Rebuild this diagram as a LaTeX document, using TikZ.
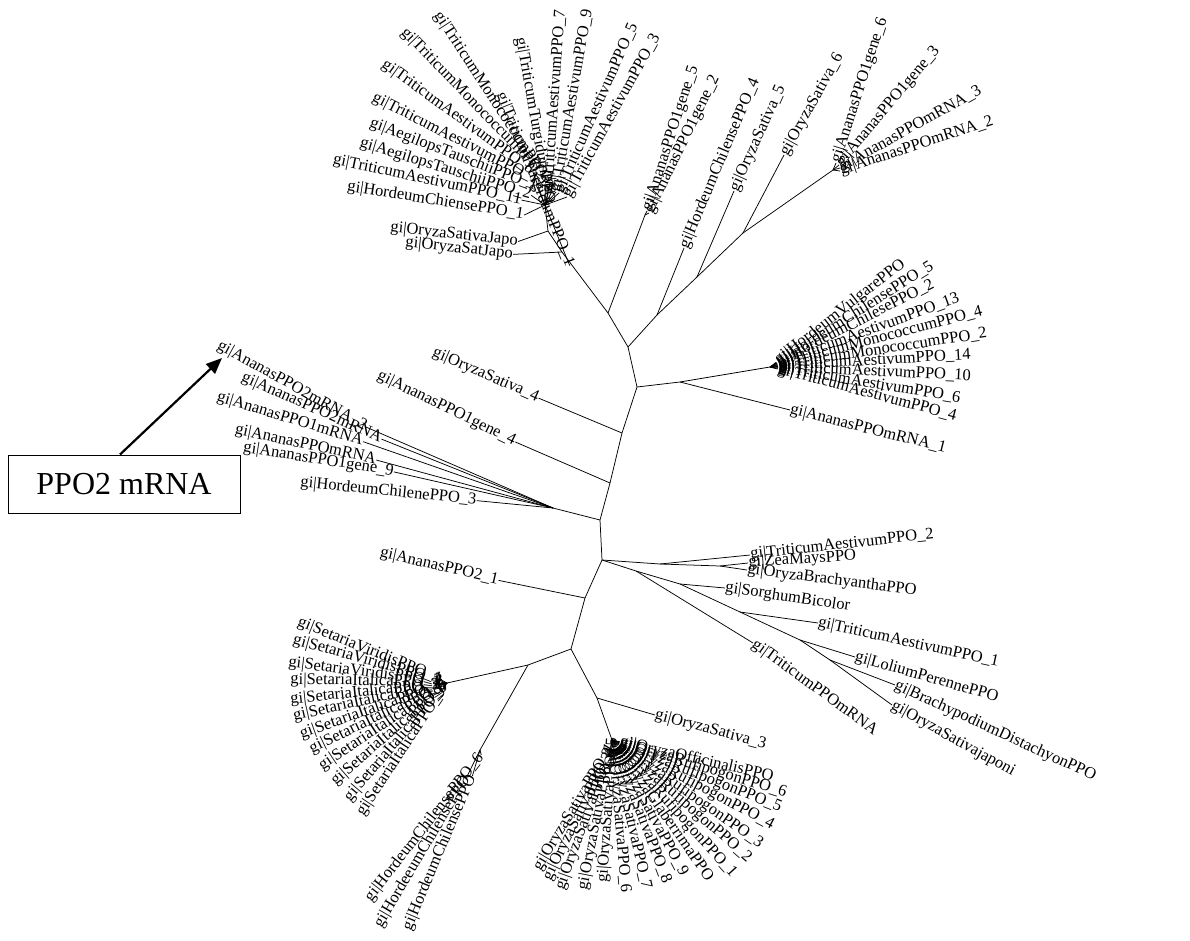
\documentclass[tikz,border=0pt]{standalone}
\usepackage{fontspec}
\setmainfont{Liberation Serif}
\usetikzlibrary{arrows.meta}
\newcommand{\lblfont}{\fontsize{16.5}{17}\selectfont}
\begin{document}
\begin{tikzpicture}[x=1pt,y=-1pt,
  br/.style={line width=0.75pt},
  lbl/.style={font=\lblfont, inner sep=0.3pt, anchor=west},
  boxnode/.style={draw, line width=1pt, minimum width=232pt, minimum height=58pt, inner sep=0pt, font=\fontsize{32}{32}\selectfont},
  bigarrow/.style={line width=2.2pt, -{Triangle[length=16pt,width=13pt]}}]
\useasboundingbox (0,0) rectangle (1190,941);

% ---------- internal nodes ----------
\coordinate (A) at (628,347);
\coordinate (B) at (637,387);
\coordinate (N1) at (657,315);
\coordinate (N2) at (697,277);
\coordinate (N3) at (743,233);
\coordinate (AN) at (833,170);
\coordinate (N4) at (608,313);
\coordinate (N4b) at (645,215);
\coordinate (N5) at (562,252);
\coordinate (N5b) at (548,231);
\coordinate (T) at (545,205);
\coordinate (RA) at (680,382);
\coordinate (RC) at (770,367);
\coordinate (NOS4) at (622,433);
\coordinate (NAG4) at (610,483);
\coordinate (N6) at (600,520);
\coordinate (N7) at (553,508);
\coordinate (R0) at (602,560);
\coordinate (N9) at (585,598);
\coordinate (N10) at (571,649);
\coordinate (L1) at (528,665);
\coordinate (SC) at (447,683);
\coordinate (HC) at (480,750);
\coordinate (O1) at (597,698);
\coordinate (OC) at (612,740);
\coordinate (Ra) at (660,564);
\coordinate (Rc) at (720,566);
\coordinate (Rd) at (636,571);
\coordinate (Re) at (680,584);
\coordinate (Rf) at (740,612);
\coordinate (Rg) at (800,640);
\coordinate (Rh) at (830,660);

% ---------- backbone ----------
\draw[br] (A)--(B)--(NOS4)--(NAG4)--(N6)--(R0)--(N9)--(N10)--(O1)--(OC);
\draw[br] (A)--(N1)--(N2)--(N3)--(AN);
\draw[br] (A)--(N4)--(N5)--(N5b)--(T);
\draw[br] (N4)--(N4b);
\draw[br] (B)--(RA)--(RC);
\draw[br] (N6)--(N7);
\draw[br] (N10)--(L1)--(SC);
\draw[br] (L1)--(HC);
\draw[br] (R0)--(Ra)--(Rc);
\draw[br] (R0)--(Rd)--(Re)--(Rf)--(Rg)--(Rh);

% ---------- top right ----------
\node[lbl,rotate=67] (lHC4) at (684,248) {gi|HordeumChilensePPO\_4};
\draw[br] (N1)--(lHC4.west);
\node[lbl,rotate=65.5] (lOS5) at (734,191) {gi|OryzaSativa\_5};
\draw[br] (N2)--(lOS5.west);
\node[lbl,rotate=61] (lOS6) at (784,155) {gi|OryzaSativa\_6};
\draw[br] (N3)--(lOS6.west);
\node[lbl,rotate=72] (lAg6) at (836,163) {gi|AnanasPPO1gene\_6};
\node[lbl,rotate=50] (lAg3) at (839,165) {gi|AnanasPPO1gene\_3};
\node[lbl,rotate=29] (lAm3) at (840,168) {gi|AnanasPPOmRNA\_3};
\node[lbl,rotate=18] (lAm2) at (840,171) {gi|AnanasPPOmRNA\_2};
\foreach \n in {lAg6,lAg3,lAm3,lAm2} \draw[br] (AN)--(\n.west);
\node[lbl,rotate=72] (lAg5) at (647,211) {gi|AnanasPPO1gene\_5};
\node[lbl,rotate=64] (lAg2) at (649,213) {gi|AnanasPPO1gene\_2};
\draw[br] (N4b)--(lAg5.west);
\draw[br] (N4b)--(lAg2.west);

% ---------- top left fan ----------
\node[lbl,rotate=-6] (lJ1) at (390,228) {gi|OryzaSativaJapo};
\node[lbl,rotate=-6] (lJ2) at (405,243) {gi|OryzaSatJapo};
\draw[br] (N5b)--(lJ1.east);
\draw[br] (N5)--(lJ2.east);
\node[lbl,rotate=86] (lT7) at (548,194) {gi|TriticumAestivumPPO\_7};
\node[lbl,rotate=80] (lT9) at (556,192) {gi|TriticumAestivumPPO\_9};
\node[lbl,rotate=66] (lT5) at (559,193) {gi|TriticumAestivumPPO\_5};
\node[lbl,rotate=61] (lT3) at (567,197) {gi|TriticumAestivumPPO\_3};
\foreach \n in {lT7,lT9,lT5,lT3} \draw[br] (T)--(\n.west);
\node[lbl,rotate=-80] (lTg1) at (520,37) {gi|TriticumTurgidumPPO};
\node[lbl,rotate=-68] (lTg2) at (500,93) {gi|TriticumTurgidumPPO\_1};
\node[lbl,rotate=-57] (lTm1) at (437,13) {gi|TriticumMonococcumPPO\_1};
\node[lbl,rotate=-46] (lTm3) at (403,30) {gi|TriticumMonococcumPPO\_3};
\node[lbl,rotate=-36] (lT8) at (383,63) {gi|TriticumAestivumPPO\_8};
\node[lbl,rotate=-27] (lT12) at (373,97) {gi|TriticumAestivumPPO\_12};
\node[lbl,rotate=-21] (lAe1) at (370,123) {gi|AegilopsTauschiiPPO\_1};
\node[lbl,rotate=-17] (lAe2) at (360,143) {gi|AegilopsTauschiiPPO\_2};
\node[lbl,rotate=-12] (lT11) at (333,160) {gi|TriticumAestivumPPO\_11};
\node[lbl,rotate=-9] (lHc1) at (347,187) {gi|HordeumChiensePPO\_1};
\foreach \n in {lTg1,lTg2,lTm1,lTm3,lT8,lT12,lAe1,lAe2,lT11,lHc1} \draw[br] (T)--(\n.east);

% ---------- right fan ----------
\node[lbl,rotate=38] (lHV) at (776.3,362.1) {gi|HordeumVulgarePPO};
\node[lbl,rotate=32] (lHC5) at (776.8,362.8) {gi|HordeumChilensePPO\_5};
\node[lbl,rotate=27] (lHC2) at (777.1,363.4) {gi|HordeumChilesePPO\_2};
\node[lbl,rotate=20] (lT13) at (777.5,364.3) {gi|TriticumAestivumPPO\_13};
\node[lbl,rotate=14.6] (lTm4) at (777.7,365) {gi|TriticumMonococcumPPO\_4};
\node[lbl,rotate=8.7] (lTm2) at (777.9,365.8) {gi|TriticumMonococcumPPO\_2};
\node[lbl,rotate=3.3] (lT14) at (778,366.5) {gi|TriticumAestivumPPO\_14};
\node[lbl,rotate=-2.7] (lT10) at (778,367.4) {gi|TriticumAestivumPPO\_10};
\node[lbl,rotate=-9.5] (lT6) at (777.9,368.3) {gi|TriticumAestivumPPO\_6};
\node[lbl,rotate=-15] (lT4) at (777.7,369.1) {gi|TriticumAestivumPPO\_4};
\foreach \n in {lHV,lHC5,lHC2,lT13,lTm4,lTm2,lT14,lT10,lT6,lT4} \draw[br] (RC)--(\n.west);
\node[lbl,rotate=-14] (lAm1) at (790,410) {gi|AnanasPPOmRNA\_1};
\draw[br] (RA)--(lAm1.west);

% ---------- left middle ----------
\node[lbl,rotate=-23.6] (lOS4) at (433,352) {gi|OryzaSativa\_4};
\draw[br] (NOS4)--(lOS4.east);
\node[lbl,rotate=-26] (lAG4) at (378,375) {gi|AnanasPPO1gene\_4};
\draw[br] (NAG4)--(lAG4.east);
\node[lbl,rotate=-29] (lP2a) at (218,345) {gi|AnanasPPO2mRNA\_2};
\node[lbl,rotate=-24] (lP2b) at (242,377) {gi|AnanasPPO2mRNA};
\node[lbl,rotate=-17] (lP1m) at (217,397) {gi|AnanasPPO1mRNA};
\node[lbl,rotate=-12] (lPm) at (235,430) {gi|AnanasPPOmRNA};
\node[lbl,rotate=-9] (lPg9) at (243,448) {gi|AnanasPPO1gene\_9};
\node[lbl,rotate=-5.7] (lHC3) at (300,483) {gi|HordeumChilenePPO\_3};
\foreach \n in {lP2a,lP2b,lP1m,lPm,lPg9,lHC3} \draw[br] (N7)--(\n.east);
\node[lbl,rotate=-13] (lAP21) at (380,553) {gi|AnanasPPO2\_1};
\draw[br] (N9)--(lAP21.east);

% ---------- right lower group ----------
\node[lbl,rotate=6.3] (lTA2) at (750,555) {gi|TriticumAestivumPPO\_2};
\draw[br] (Ra)--(lTA2.west);
\node[lbl,rotate=3.6] (lZM) at (748,563) {gi|ZeaMaysPPO};
\node[lbl,rotate=-7] (lOB) at (747,570) {gi|OryzaBrachyanthaPPO};
\draw[br] (Rc)--(lZM.west);
\draw[br] (Rc)--(lOB.west);
\node[lbl,rotate=-36] (lTm) at (753,643) {gi|TriticumPPOmRNA};
\draw[br] (Rd)--(lTm.west);
\node[lbl,rotate=-8.6] (lSB) at (725,588) {gi|SorghumBicolor};
\draw[br] (Re)--(lSB.west);
\node[lbl,rotate=-12.3] (lTA1) at (818,623) {gi|TriticumAestivumPPO\_1};
\draw[br] (Rf)--(lTA1.west);
\node[lbl,rotate=-16] (lLP) at (855,657) {gi|LoliumPerennePPO};
\draw[br] (Rg)--(lLP.west);
\node[lbl,rotate=-24.7] (lBD) at (895,685) {gi|BrachypodiumDistachyonPPO};
\node[lbl,rotate=-29] (lOSj) at (892,705) {gi|OryzaSativajaponi};
\draw[br] (Rh)--(lBD.west);
\draw[br] (Rh)--(lOSj.west);

% ---------- Setaria fan ----------
\node[lbl,rotate=-22] (lS1) at (298,622) {gi|SetariaViridisPPO\_1};
\node[lbl,rotate=-15.6] (lS2) at (293,640) {gi|SetariaViridisPPO\_2};
\node[lbl,rotate=-7] (lS3) at (288,663) {gi|SetariaViridisPPO\_3};
\node[lbl,rotate=-1] (lS4) at (290,680) {gi|SetariaItalicaPPO\_1};
\node[lbl,rotate=6] (lS5) at (290,700) {gi|SetariaItalicaPPO\_2};
\node[lbl,rotate=12.5] (lS6) at (293,717) {gi|SetariaItalicaPPO\_3};
\node[lbl,rotate=19.5] (lS7) at (300,735) {gi|SetariaItalicaPPO\_4};
\node[lbl,rotate=26] (lS8) at (310,750) {gi|SetariaItalicaPPO\_5};
\node[lbl,rotate=33.5] (lS9) at (320,767) {gi|SetariaItalicaPPO\_6};
\node[lbl,rotate=41] (lS10) at (333,783) {gi|SetariaItalicaPPO\_7};
\node[lbl,rotate=49.5] (lS11) at (347,800) {gi|SetariaItalicaPPO\_8};
\node[lbl,rotate=56.6] (lS12) at (360,815) {gi|SetariaItalicaPPO\_9};
\foreach \n in {lS1,lS2,lS3,lS4,lS5,lS6,lS7,lS8,lS9,lS10,lS11,lS12} \draw[br] (SC)--(\n.east);

% ---------- Hordeum bottom ----------
\node[lbl,rotate=52] (lH1) at (368,900) {gi|HordeumChilensePPO\_6};
\node[lbl,rotate=59.4] (lH2) at (378,927) {gi|HordeeumChilensePPO};
\node[lbl,rotate=67] (lH3) at (407,930) {gi|HordeumChilensePPO};
\foreach \n in {lH1,lH2,lH3} \draw[br] (HC)--(\n.east);

% ---------- Oryza bottom fan ----------
\node[lbl,rotate=-15] (lOS3) at (655,715) {gi|OryzaSativa\_3};
\draw[br] (O1)--(lOS3.west);
\node[lbl,rotate=-13] (lOO) at (619.8,741.8) {gi|OryzaOfficinalisPPO};
\node[lbl,rotate=-17] (lR6) at (619.6,742.3) {gi|OryzaRufipogonPPO\_6};
\node[lbl,rotate=-22] (lR5) at (619.4,743) {gi|OryzaRufipogonPPO\_5};
\node[lbl,rotate=-28] (lR4) at (619.1,743.8) {gi|OryzaRufipogonPPO\_4};
\node[lbl,rotate=-35] (lR3) at (618.6,744.6) {gi|OryzaRufipogonPPO\_3};
\node[lbl,rotate=-41] (lR2) at (618,745.2) {gi|OryzaRufipogonPPO\_2};
\node[lbl,rotate=-48] (lR1) at (617.4,745.9) {gi|OryzaRufipogonPPO\_1};
\node[lbl,rotate=-55] (lOG) at (616.6,746.6) {gi|OryzaGlaberrimaPPO};
\node[lbl,rotate=-62] (lO9) at (615.8,747.1) {gi|OryzaSativaPPO\_9};
\node[lbl,rotate=-69] (lO8) at (614.9,747.5) {gi|OryzaSativaPPO\_8};
\node[lbl,rotate=-77] (lO7) at (613.8,747.8) {gi|OryzaSativaPPO\_7};
\node[lbl,rotate=-85] (lO6) at (612.7,748) {gi|OryzaSativaPPO\_6};
\foreach \n in {lOO,lR6,lR5,lR4,lR3,lR2,lR1,lOG,lO9,lO8,lO7,lO6} \draw[br] (OC)--(\n.west);
\node[lbl,rotate=59] (lO1) at (537,870) {gi|OryzaSativaPPO\_1};
\node[lbl,rotate=64] (lO2) at (547,880) {gi|OryzaSativaPPO\_2};
\node[lbl,rotate=70] (lO3) at (560,890) {gi|OryzaSativaPPO\_3};
\node[lbl,rotate=79] (lO4) at (583,890) {gi|OryzaSativaPPO\_4};
\node[lbl,rotate=86] (lO5) at (603,883) {gi|OryzaSativaPPO\_5};
\foreach \n in {lO1,lO2,lO3,lO4,lO5} \draw[br] (OC)--(\n.east);

% ---------- annotation ----------
\node[boxnode] (box) at (124,484) {PPO2 mRNA};
\coordinate (atail) at (120,455);
\coordinate (ahead) at (222,358);
\draw[bigarrow] (box.north -| atail) -- (ahead);
\end{tikzpicture}
\end{document}
